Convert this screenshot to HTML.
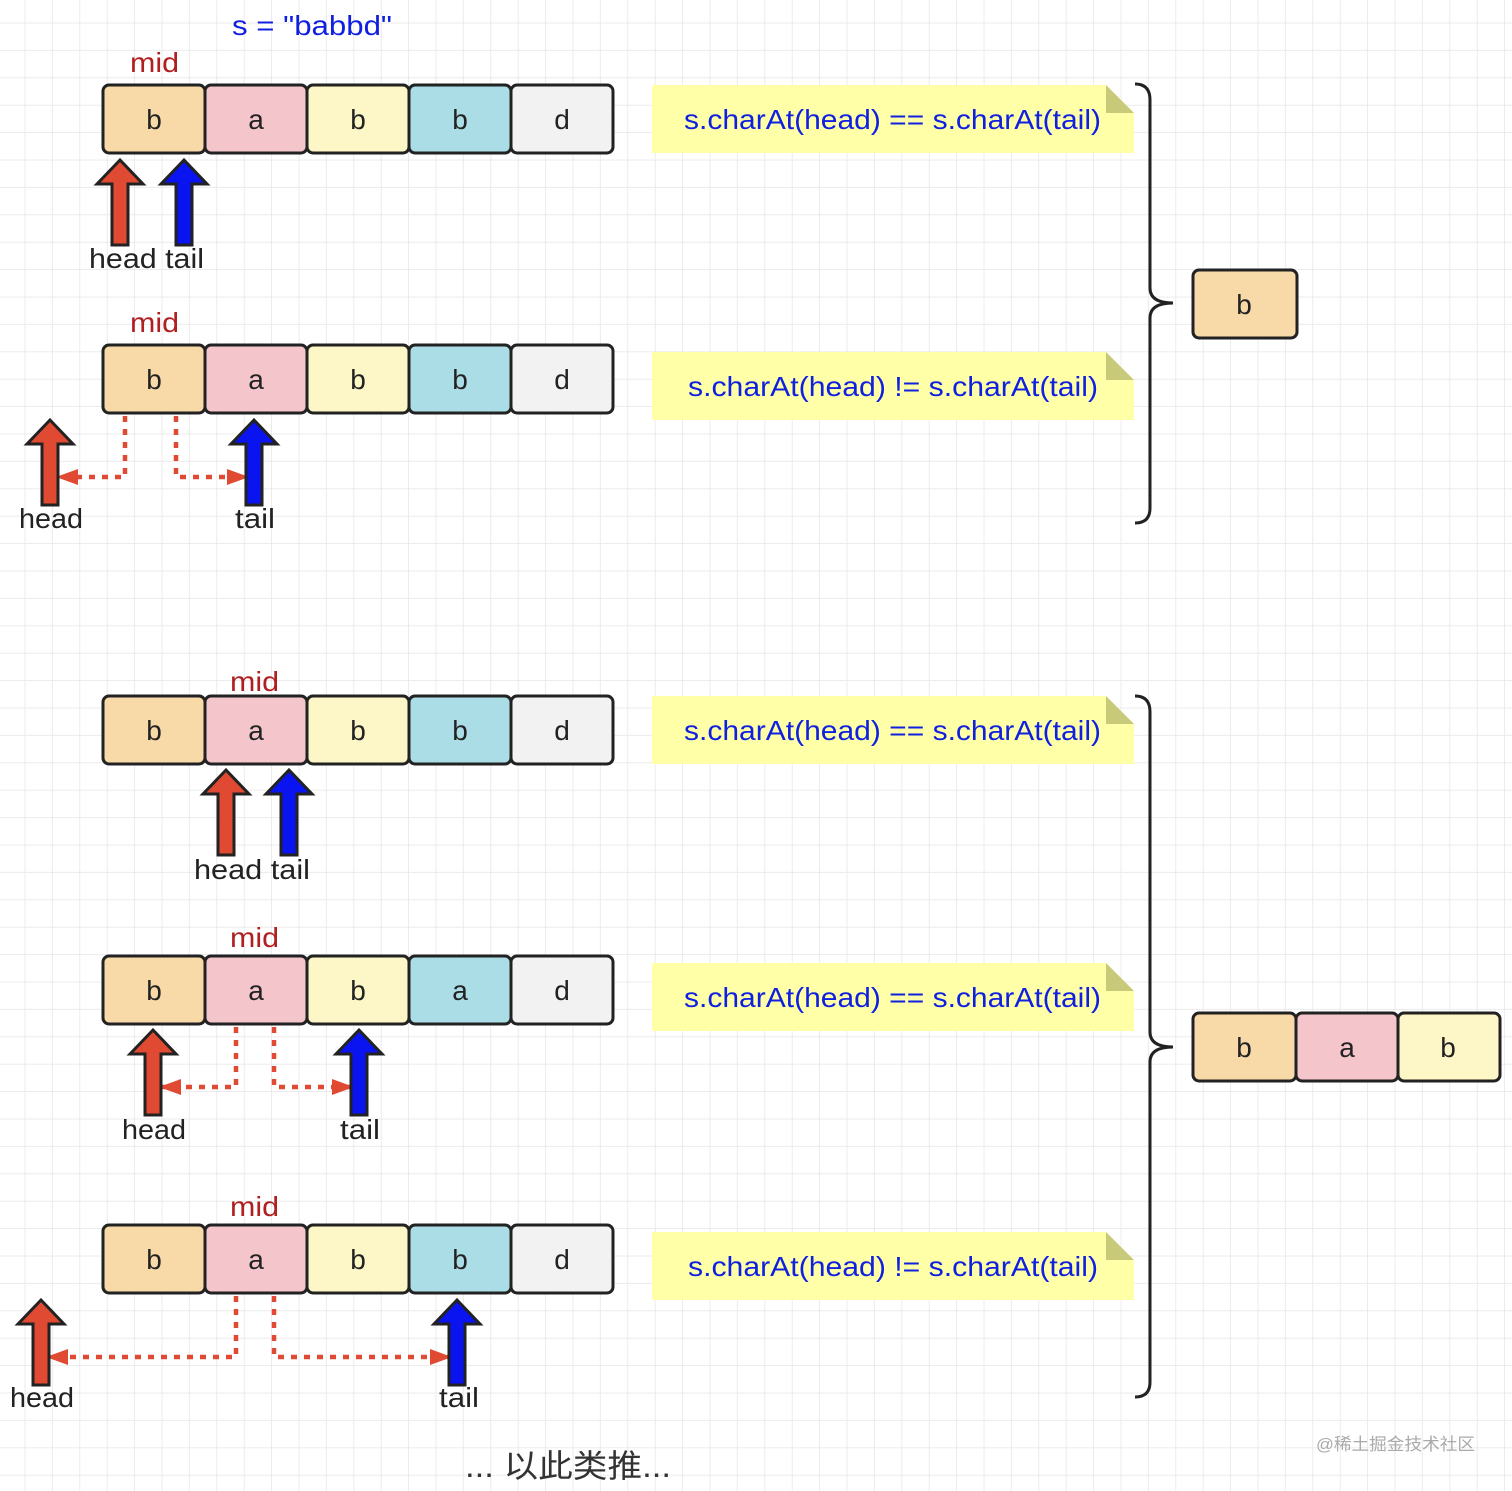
<!DOCTYPE html>
<html><head><meta charset="utf-8"><style>
html,body{margin:0;padding:0;background:#fff}
svg{display:block}
text{font-family:"Liberation Sans","Noto Sans CJK SC",sans-serif}
</style></head><body>
<svg width="1512" height="1491" viewBox="0 0 1512 1491" xmlns="http://www.w3.org/2000/svg">
<defs>
<pattern id="g" x="-2" y="-4" width="27.4" height="27.4" patternUnits="userSpaceOnUse">
<path d="M27.4 0V27.4M0 27.4H27.4" fill="none" stroke="#e6e6e6" stroke-width="1.5"/>
</pattern>
<g id="cells">
<rect x="103" y="0" width="102" height="68" rx="6" fill="#f8d9a8" stroke="#222" stroke-width="3"/>
<rect x="205" y="0" width="102" height="68" rx="6" fill="#f4c6cc" stroke="#222" stroke-width="3"/>
<rect x="307" y="0" width="102" height="68" rx="6" fill="#fdf7c7" stroke="#222" stroke-width="3"/>
<rect x="409" y="0" width="102" height="68" rx="6" fill="#abdde6" stroke="#222" stroke-width="3"/>
<rect x="511" y="0" width="102" height="68" rx="6" fill="#f2f2f2" stroke="#222" stroke-width="3"/>
</g>
<path id="up" d="M0 0L23 24H8V85H-8V24H-23Z" stroke="#222" stroke-width="3" stroke-linejoin="miter"/>
<g id="note">
<path d="M652 0H1106L1134 28V68H652Z" fill="#ffffa8"/>
<path d="M1106 0L1134 28H1106Z" fill="#c9c97a"/>
</g>
<marker id="ar" markerWidth="22" markerHeight="16" refX="20" refY="8" orient="auto" markerUnits="userSpaceOnUse" viewBox="0 0 22 16"><path d="M0 0L22 8L0 16Z" fill="#e04a33"/></marker>
</defs>
<rect width="1512" height="1491" fill="url(#g)"/>

<text x="232" y="35" font-size="28" fill="#1020e0" textLength="160" lengthAdjust="spacingAndGlyphs">s = "babbd"</text>

<g font-size="28" text-anchor="middle" fill="#222">
<use href="#cells" y="85"/>
<text x="154" y="129">b</text><text x="256" y="129">a</text><text x="358" y="129">b</text><text x="460" y="129">b</text><text x="562" y="129">d</text>
<use href="#cells" y="345"/>
<text x="154" y="389">b</text><text x="256" y="389">a</text><text x="358" y="389">b</text><text x="460" y="389">b</text><text x="562" y="389">d</text>
<use href="#cells" y="696"/>
<text x="154" y="740">b</text><text x="256" y="740">a</text><text x="358" y="740">b</text><text x="460" y="740">b</text><text x="562" y="740">d</text>
<use href="#cells" y="956"/>
<text x="154" y="1000">b</text><text x="256" y="1000">a</text><text x="358" y="1000">b</text><text x="460" y="1000">a</text><text x="562" y="1000">d</text>
<use href="#cells" y="1225"/>
<text x="154" y="1269">b</text><text x="256" y="1269">a</text><text x="358" y="1269">b</text><text x="460" y="1269">b</text><text x="562" y="1269">d</text>
</g>

<g font-size="28" fill="#b02020">
<text x="130" y="72" textLength="49" lengthAdjust="spacingAndGlyphs">mid</text>
<text x="130" y="332" textLength="49" lengthAdjust="spacingAndGlyphs">mid</text>
<text x="230" y="691" textLength="49" lengthAdjust="spacingAndGlyphs">mid</text>
<text x="230" y="947" textLength="49" lengthAdjust="spacingAndGlyphs">mid</text>
<text x="230" y="1216" textLength="49" lengthAdjust="spacingAndGlyphs">mid</text>
</g>

<g fill="none" stroke="#e04a33" stroke-width="4.5" stroke-dasharray="6 7" marker-end="url(#ar)">
<path d="M125 416V477H58"/>
<path d="M176 416V477H247"/>
<path d="M236 1027V1087H161"/>
<path d="M274 1027V1087H352"/>
<path d="M236 1296V1357H48"/>
<path d="M274 1296V1357H450"/>
</g>

<use href="#up" x="120" y="160" fill="#e04a33"/>
<use href="#up" x="184" y="160" fill="#0a14f0"/>
<use href="#up" x="50" y="420" fill="#e04a33"/>
<use href="#up" x="254" y="420" fill="#0a14f0"/>
<use href="#up" x="226" y="770" fill="#e04a33"/>
<use href="#up" x="289" y="770" fill="#0a14f0"/>
<use href="#up" x="153" y="1030" fill="#e04a33"/>
<use href="#up" x="359" y="1030" fill="#0a14f0"/>
<use href="#up" x="41" y="1300" fill="#e04a33"/>
<use href="#up" x="457" y="1300" fill="#0a14f0"/>

<g font-size="28" fill="#222">
<text x="89" y="268" textLength="115" lengthAdjust="spacingAndGlyphs">head tail</text>
<text x="19" y="528" textLength="64" lengthAdjust="spacingAndGlyphs">head</text>
<text x="235" y="528" textLength="40" lengthAdjust="spacingAndGlyphs">tail</text>
<text x="194" y="879" textLength="116" lengthAdjust="spacingAndGlyphs">head tail</text>
<text x="122" y="1139" textLength="64" lengthAdjust="spacingAndGlyphs">head</text>
<text x="340" y="1139" textLength="40" lengthAdjust="spacingAndGlyphs">tail</text>
<text x="10" y="1407" textLength="64" lengthAdjust="spacingAndGlyphs">head</text>
<text x="439" y="1407" textLength="40" lengthAdjust="spacingAndGlyphs">tail</text>
</g>

<use href="#note" y="85"/>
<use href="#note" y="352"/>
<use href="#note" y="696"/>
<use href="#note" y="963"/>
<use href="#note" y="1232"/>
<g font-size="28" fill="#1020e0">
<text x="684" y="129" textLength="417" lengthAdjust="spacingAndGlyphs">s.charAt(head) == s.charAt(tail)</text>
<text x="688" y="396" textLength="410" lengthAdjust="spacingAndGlyphs">s.charAt(head) != s.charAt(tail)</text>
<text x="684" y="740" textLength="417" lengthAdjust="spacingAndGlyphs">s.charAt(head) == s.charAt(tail)</text>
<text x="684" y="1007" textLength="417" lengthAdjust="spacingAndGlyphs">s.charAt(head) == s.charAt(tail)</text>
<text x="688" y="1276" textLength="410" lengthAdjust="spacingAndGlyphs">s.charAt(head) != s.charAt(tail)</text>
</g>

<g fill="none" stroke="#222" stroke-width="3">
<path d="M1135 84Q1150 84 1150 100V288Q1150 303 1173 303Q1150 303 1150 318V508Q1150 523 1135 523"/>
<path d="M1135 696Q1150 696 1150 712V1032Q1150 1047 1173 1047Q1150 1047 1150 1062V1382Q1150 1397 1135 1397"/>
</g>

<rect x="1193" y="270" width="104" height="68" rx="6" fill="#f8d9a8" stroke="#222" stroke-width="3"/>
<rect x="1193" y="1013" width="103" height="68" rx="6" fill="#f8d9a8" stroke="#222" stroke-width="3"/>
<rect x="1296" y="1013" width="102" height="68" rx="6" fill="#f4c6cc" stroke="#222" stroke-width="3"/>
<rect x="1398" y="1013" width="102" height="68" rx="6" fill="#fdf7c7" stroke="#222" stroke-width="3"/>
<g font-size="28" fill="#222" text-anchor="middle">
<text x="1244" y="314">b</text>
<text x="1244" y="1057">b</text><text x="1347" y="1057">a</text><text x="1448" y="1057">b</text>
</g>

<text x="465" y="1477" font-size="32" fill="#333" textLength="206" lengthAdjust="spacingAndGlyphs">... 以此类推...</text>
<text x="1316" y="1450" font-size="17" fill="#aaa" textLength="159" lengthAdjust="spacingAndGlyphs">@稀土掘金技术社区</text>
</svg>
</body></html>
